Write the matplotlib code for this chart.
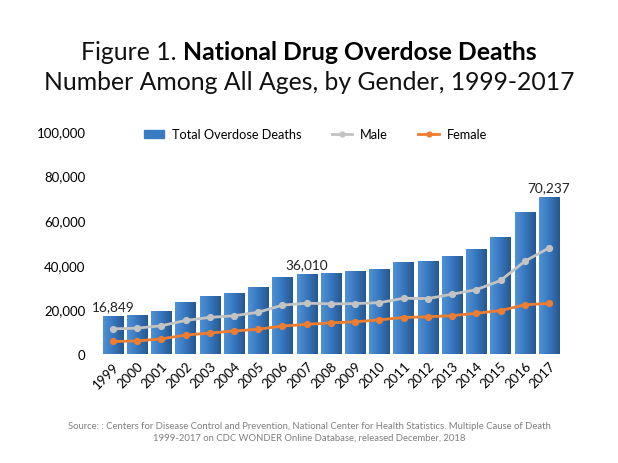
import matplotlib
matplotlib.use("Agg")
import matplotlib.pyplot as plt
import numpy as np
from matplotlib.colors import LinearSegmentedColormap

years = [str(y) for y in range(1999, 2018)]
total = [16849, 17415, 19394, 23518, 25785, 27424, 29813, 34425, 36010, 36450,
         37004, 38329, 41340, 41502, 43982, 47055, 52404, 63632, 70237]
male = [11258, 11563, 12658, 15028, 16399, 17120, 18724, 21893, 22767, 22468,
        22593, 23006, 24987, 24840, 26799, 28812, 32957, 41558, 47600]
female = [5591, 5852, 6736, 8490, 9386, 10304, 11089, 12532, 13243, 13982,
          14411, 15323, 16353, 16662, 17183, 18243, 19447, 22074, 22637]
yticks = [0, 20000, 40000, 60000, 80000, 100000]
labeled = {"1999": "16,849", "2007": "36,010", "2017": "70,237"}

FONT = ["Lato", "DejaVu Sans"]
plt.rcParams["font.family"] = FONT

fig = plt.figure(figsize=(6.18, 4.64), dpi=100)
ax = fig.add_axes([0.163, 0.235, 0.745, 0.4805])
x = np.arange(len(years))
bars = ax.bar(x, total, width=0.84, color="#3a7cc4", zorder=2)
cmap = LinearSegmentedColormap.from_list("g", ["#4f92d8", "#3676bd", "#275890"])
grad = np.linspace(0, 1, 64).reshape(1, -1)
for b in bars:
    bx, by = b.get_x(), b.get_y()
    w, h = b.get_width(), b.get_height()
    im = ax.imshow(grad, cmap=cmap, aspect="auto", extent=[bx, bx + w, by, by + h],
                   zorder=2.1, interpolation="bilinear")
    im.set_clip_path(b)

ax.plot(x, male, color="#c3c3c3", lw=2.0, marker="o", ms=4.2, zorder=3, label="Male")
ax.plot(x, female, color="#ed7d31", lw=2.0, marker="o", ms=4.2, zorder=3, label="Female")

for i, y in enumerate(years):
    if y in labeled:
        ax.text(i, total[i] + 1800, labeled[y], ha="center", va="bottom", fontsize=9.8,
                color="#222222")

ax.set_xlim(-0.5, len(years) - 0.5)
ax.set_ylim(0, 100000)
ax.set_yticks(yticks)
ax.set_yticklabels([f"{v:,}" for v in yticks], fontsize=9.5)
ax.set_xticks(x)
ax.set_xticklabels(years, rotation=45, ha="right", rotation_mode="anchor", fontsize=9.5)
ax.tick_params(length=0, pad=11)
ax.tick_params(axis="x", pad=4)
for s in ax.spines.values():
    s.set_visible(False)
ax.patch.set_alpha(0)

# legend
from matplotlib.patches import Patch
from matplotlib.lines import Line2D
handles = [Patch(color="#3a7cc4", label="Total Overdose Deaths"),
           Line2D([], [], color="#c3c3c3", lw=2, marker="o", ms=3.5, label="Male"),
           Line2D([], [], color="#ed7d31", lw=2, marker="o", ms=3.5, label="Female")]
fig.legend(handles=handles, loc="center", bbox_to_anchor=(0.51, 0.708), ncol=3,
           frameon=False, fontsize=9.2, handlelength=1.6, columnspacing=2.4,
           handletextpad=0.6)

# title
fig.canvas.draw()
r = fig.canvas.get_renderer()
TS = 17.8
t1 = fig.text(0, 0.886, "Figure 1. ", fontsize=TS, va="center", ha="left",
              color="#111111", fontweight="normal")
t2 = fig.text(0, 0.886, "National Drug Overdose Deaths", fontsize=TS, va="center",
              ha="left", fontweight="bold", color="#000000")
w1 = t1.get_window_extent(r).width
w2 = t2.get_window_extent(r).width
start = (618 - (w1 + w2)) / 2 / 618
t1.set_x(start)
t2.set_x(start + w1 / 618)
fig.text(0.5, 0.822, "Number Among All Ages, by Gender, 1999-2017", fontsize=TS,
         ha="center", va="center", color="#111111", fontweight="normal")

fig.text(0.5, 0.068, "Source: : Centers for Disease Control and Prevention, National Center for Health Statistics. Multiple Cause of Death\n1999-2017 on CDC WONDER Online Database, released December, 2018",
         ha="center", va="center", fontsize=6.8, color="#7f7f7f", linespacing=1.35)

fig.savefig("out.png", dpi=100)
